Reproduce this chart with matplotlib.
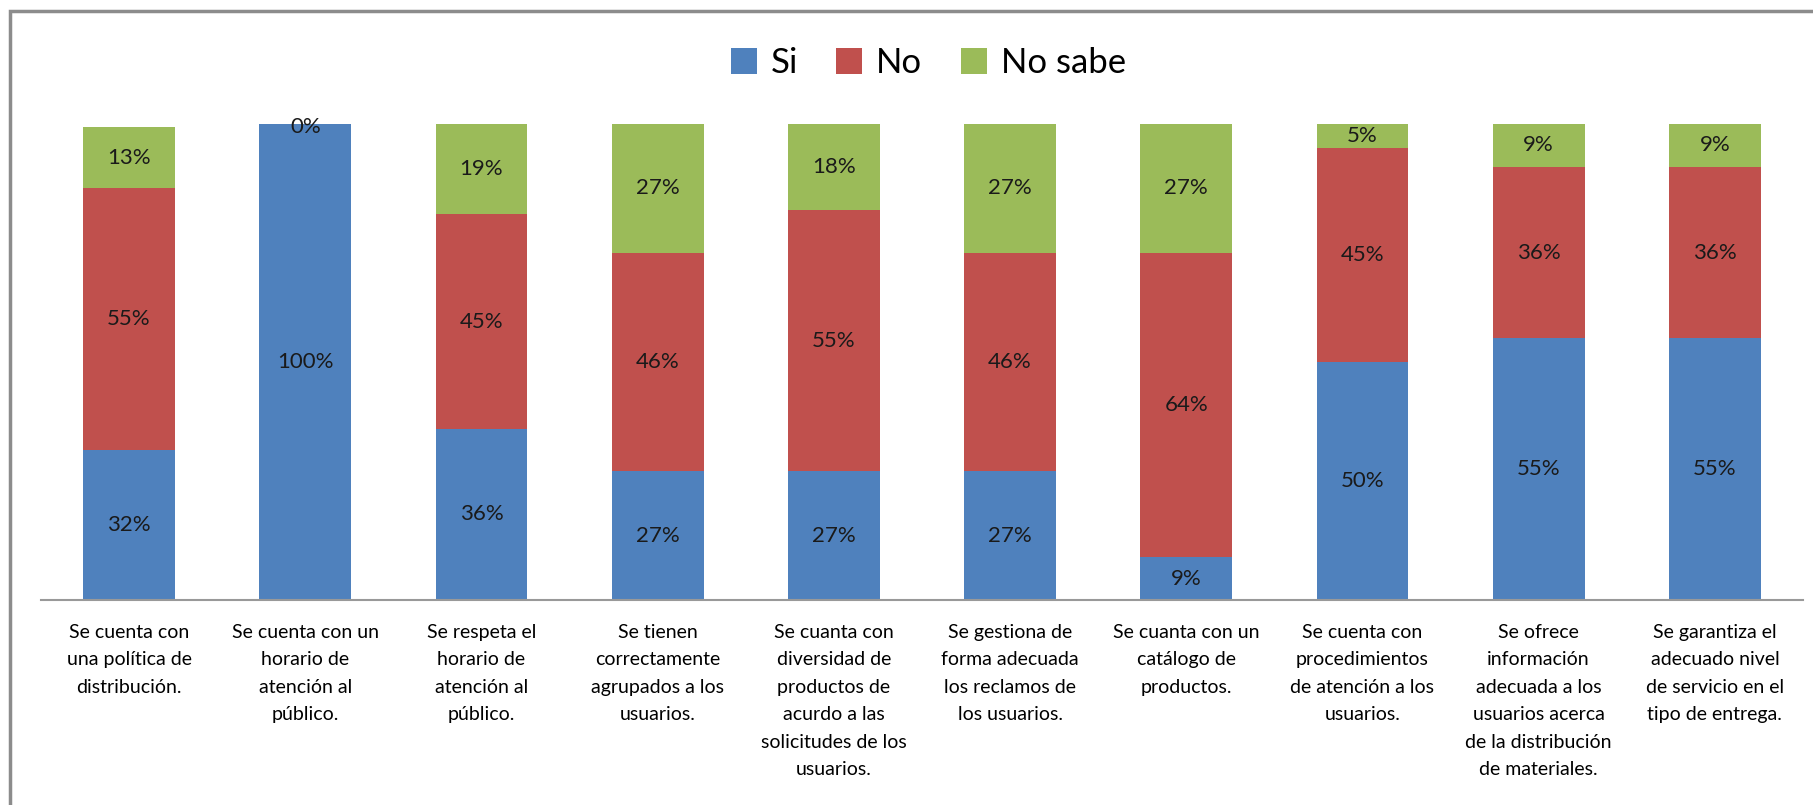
import numpy as np
import matplotlib.pyplot as plt
from matplotlib.patches import Rectangle

plt.rcParams['font.family'] = ['Lato', 'DejaVu Sans']

categorias = [
    "Se cuenta con\nuna política de\ndistribución.",
    "Se cuenta con un\nhorario de\natención al\npúblico.",
    "Se respeta el\nhorario de\natención al\npúblico.",
    "Se tienen\ncorrectamente\nagrupados a los\nusuarios.",
    "Se cuanta con\ndiversidad de\nproductos de\nacurdo a las\nsolicitudes de los\nusuarios.",
    "Se gestiona de\nforma adecuada\nlos reclamos de\nlos usuarios.",
    "Se cuanta con un\ncatálogo de\nproductos.",
    "Se cuenta con\nprocedimientos\nde atención a los\nusuarios.",
    "Se ofrece\ninformación\nadecuada a los\nusuarios acerca\nde la distribución\nde materiales.",
    "Se garantiza el\nadecuado nivel\nde servicio en el\ntipo de entrega.",
]
si = [31.6, 100, 36, 27, 27, 27, 9, 50, 55, 55]
no = [54.9, 0, 45, 46, 55, 46, 64, 45, 36, 36]
no_sabe = [12.9, 0, 19, 27, 18, 27, 27, 5, 9, 9]

colores = ['#4f81bd', '#c0504d', '#9bbb59']
series = [('Si', si), ('No', no), ('No sabe', no_sabe)]

fig = plt.figure(figsize=(18.13, 8.05), dpi=100)
ax = fig.add_axes([41 / 1813, 1 - 600 / 805, (1803 - 41) / 1813, 476 / 805])

x = np.arange(len(categorias))
base = np.zeros(len(categorias))
for (nombre, vals), c in zip(series, colores):
    vals = np.array(vals, dtype=float)
    ax.bar(x, vals, 0.52, bottom=base, color=c, label=nombre)
    for xi, b, v in zip(x, base, vals):
        # el 0% de "No" en la barra 2 no se muestra
        if v == 0 and nombre == 'No':
            continue
        y = b + v / 2 if v > 0 else b - 0.6
        ax.text(xi, y, f"{v:.0f}%", ha='center', va='center', fontsize=16, color='#1a1a1a')
    base += vals

ax.set_xlim(-0.5, len(categorias) - 0.5)
ax.set_ylim(0, 100)
ax.set_yticks([])
ax.set_xticks(x)
ax.set_xticklabels(categorias, fontsize=14, linespacing=1.75)
ax.tick_params(axis='x', length=0, pad=17)
for s in ['top', 'right', 'left']:
    ax.spines[s].set_visible(False)
ax.spines['bottom'].set_color('#999999')
ax.spines['bottom'].set_linewidth(1.5)

ax.legend(loc='center', bbox_to_anchor=(0.512, 1 - 63 / 805), bbox_transform=fig.transFigure,
          ncol=3, frameon=False, fontsize=25, handlelength=0.75, handleheight=0.75,
          handletextpad=0.4, columnspacing=1.1)

# marco gris del gráfico
fig.patches.append(Rectangle((10 / 1813, -0.1), 1.2, 1 - 11 / 805 + 0.1, transform=fig.transFigure,
                             fill=False, edgecolor='#8c8c8c', linewidth=2.5))

fig.savefig('out.png', dpi=100)
